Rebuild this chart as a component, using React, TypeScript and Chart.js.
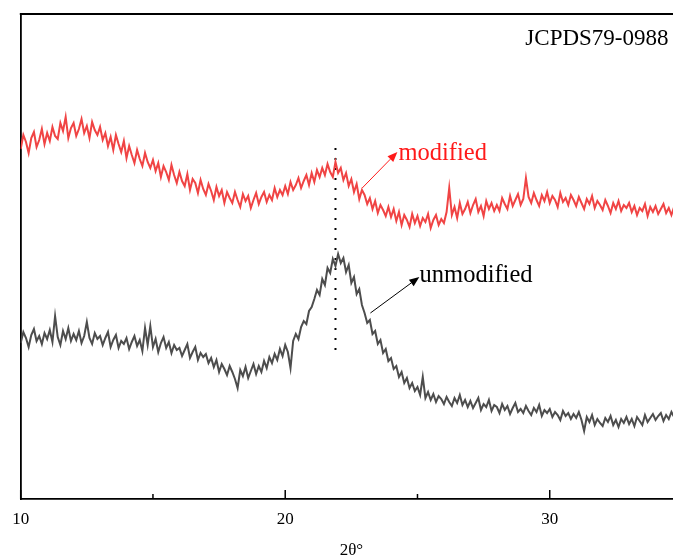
import React, { useEffect, useRef } from "react";
import { Chart, registerables } from "chart.js";

Chart.register(...registerables);

// 2θ scan: start angle and step (degrees)
const ANGLE_START = 10;
const ANGLE_STEP = 0.1;

// Intensity (a.u., offset traces), one value per 0.1° from 10.0°
const MODIFIED = [
  350, 364, 357, 346, 361, 367, 352, 359, 370, 355,
  366, 358, 372, 363, 360, 376, 368, 382, 361, 371,
  376, 363, 370, 380, 366, 373, 361, 377, 369, 364,
  372, 359, 366, 353, 362, 349, 364, 355, 347, 358,
  341, 353, 344, 336, 349, 340, 333, 346, 337, 331,
  339, 328, 336, 322, 333, 327, 319, 334, 324, 316,
  327, 318, 313, 325, 309, 320, 316, 306, 319, 310,
  304, 315, 308, 299, 312, 303, 309, 296, 307, 301,
  296, 307, 299, 292, 305, 298, 303, 291, 299, 306,
  295, 302, 307, 297, 304, 299, 311, 302, 309, 304,
  313, 305, 317, 309, 314, 321, 311, 318, 324, 314,
  326, 317, 329, 322, 331, 324, 335, 327, 322, 337,
  326, 331, 319, 326, 313, 320, 307, 315, 300, 309,
  304, 295, 301, 290, 298, 286, 294, 289, 283, 292,
  282, 290, 278, 287, 274, 284, 279, 272, 285, 276,
  283, 273, 281, 277, 285, 271, 279, 284, 274, 280,
  276, 287, 311, 284, 292, 281, 296, 285, 290, 297,
  286, 294, 300, 287, 293, 283, 298, 290, 296, 288,
  294, 288, 301, 295, 290, 303, 293, 299, 305, 294,
  300, 321, 302, 296, 306, 299, 293, 304, 298, 307,
  296, 303, 299, 292, 306, 297, 301, 294, 304, 299,
  293, 302, 296, 290, 300, 295, 303, 291, 298, 294,
  289, 299, 293, 286, 296, 290, 298, 288, 294, 291,
  296, 287, 293, 284, 291, 288, 295, 283, 292, 287,
  293, 285, 290, 295, 286, 291, 284, 292, 288,
];

const UNMODIFIED = [
  156, 167, 161, 152, 164, 170, 158, 163, 155, 166,
  160, 169, 157, 183, 162, 154, 168, 160, 171, 158,
  165, 159, 168, 156, 163, 177, 161, 155, 166, 160,
  163, 154, 161, 167, 152, 159, 164, 151, 158, 155,
  161, 150, 157, 163, 153, 159, 148, 171, 154, 173,
  152, 160, 147, 156, 162, 151, 157, 146, 154, 149,
  151, 143, 149, 155, 141, 147, 152, 139, 146, 142,
  145, 136, 141, 132, 139, 127, 135, 130, 124, 133,
  127, 120, 111, 129, 123, 132, 121, 128, 135, 125,
  133, 127, 138, 131, 142, 136, 145, 139, 150, 143,
  154, 147, 131, 158, 165, 160, 172, 178, 175, 188,
  192, 200, 209, 204, 220, 214, 231, 226, 240, 233,
  245, 236, 241, 227, 234, 216, 222, 205, 210, 194,
  186, 176, 179, 165, 168, 155, 159, 146, 150, 138,
  141, 130, 133, 122, 127, 116, 121, 111, 116, 108,
  112, 104, 122, 101, 107, 99, 105, 97, 103, 100,
  95, 102, 97, 93, 101, 96, 104, 94, 99, 92,
  98, 91, 96, 101, 89, 95, 92, 99, 88, 94,
  92, 86, 95, 89, 93, 85, 91, 96, 87, 90,
  86, 93, 88, 84, 91, 87, 94, 83, 89, 86,
  90, 82, 87, 84, 79, 88, 83, 86, 80, 85,
  81, 87, 79, 68, 82, 77, 84, 74, 80, 76,
  73, 81, 77, 83, 74, 79, 72, 80, 76, 82,
  75, 80, 73, 82, 78, 74, 84, 77, 81, 85,
  79, 83, 86, 78, 84, 80, 87, 82, 85,
];

const X_TICKS = [10, 20, 30];
const X_MINOR_TICKS = [15, 25, 35];
const X_MIN = 10;
const X_MAX = 35;
const Y_MIN = 0;
const Y_MAX = 485;

// vertical dotted reference line (JCPDS 79-0988 peak)
const REF_LINE_X = [21.9, 21.9];
const REF_LINE_Y = [149, 359];

const LABEL_MODIFIED = "modified";
const LABEL_UNMODIFIED = "unmodified";
const LABEL_JCPDS = "JCPDS79-0988";
const X_TITLE = "2θ°";

const SERIF = "'Liberation Serif', 'Times New Roman', serif";
const RED = "#f04444";
const GREY = "#4d4d4d";

function drawArrow(ctx: CanvasRenderingContext2D, x1: number, y1: number, x2: number, y2: number, color: string) {
  const ang = Math.atan2(y2 - y1, x2 - x1);
  const head = 10;
  const half = 4;
  const bx = x2 - head * Math.cos(ang);
  const by = y2 - head * Math.sin(ang);
  ctx.strokeStyle = color;
  ctx.fillStyle = color;
  ctx.lineWidth = 1;
  ctx.beginPath();
  ctx.moveTo(x1, y1);
  ctx.lineTo(bx, by);
  ctx.stroke();
  ctx.beginPath();
  ctx.moveTo(x2, y2);
  ctx.lineTo(bx + half * Math.sin(ang), by - half * Math.cos(ang));
  ctx.lineTo(bx - half * Math.sin(ang), by + half * Math.cos(ang));
  ctx.closePath();
  ctx.fill();
}

export default function App() {
  const ref = useRef<HTMLCanvasElement>(null);

  useEffect(() => {
    if (!ref.current) return;
    const toPts = (arr: number[]) =>
      arr.map((y, i) => ({ x: +(ANGLE_START + i * ANGLE_STEP).toFixed(2), y }));

    const framePlugin = {
      id: "frame",
      afterDatasetsDraw(chart: any) {
        const { ctx, chartArea: a, scales } = chart;
        const xs = scales.x;
        const ys = scales.y;
        ctx.save();
        ctx.strokeStyle = "#000";
        ctx.lineWidth = 1.8;
        ctx.beginPath();
        ctx.moveTo(a.left - 0.9, a.top);
        ctx.lineTo(a.right, a.top);
        ctx.stroke();
        ctx.lineWidth = 1.5;
        X_TICKS.forEach((v) => {
          const px = xs.getPixelForValue(v);
          ctx.beginPath();
          ctx.moveTo(px, a.bottom);
          ctx.lineTo(px, a.bottom - 9);
          ctx.stroke();
        });
        X_MINOR_TICKS.forEach((v) => {
          const px = xs.getPixelForValue(v);
          ctx.beginPath();
          ctx.moveTo(px, a.bottom);
          ctx.lineTo(px, a.bottom - 5);
          ctx.stroke();
        });

        // arrows
        drawArrow(ctx, xs.getPixelForValue(22.91), ys.getPixelForValue(311), xs.getPixelForValue(24.24), ys.getPixelForValue(347), "#ff1a1a");
        drawArrow(ctx, xs.getPixelForValue(23.22), ys.getPixelForValue(186), xs.getPixelForValue(25.07), ys.getPixelForValue(222), "#000");

        ctx.textBaseline = "alphabetic";
        ctx.font = `24.5px ${SERIF}`;
        ctx.textAlign = "left";
        ctx.fillStyle = "#ff1a1a";
        ctx.fillText(LABEL_MODIFIED, xs.getPixelForValue(24.28), ys.getPixelForValue(339));
        ctx.fillStyle = "#000";
        ctx.fillText(LABEL_UNMODIFIED, xs.getPixelForValue(25.08), ys.getPixelForValue(217));
        ctx.font = `23px ${SERIF}`;
        ctx.textAlign = "right";
        ctx.fillText(LABEL_JCPDS, xs.getPixelForValue(34.49), ys.getPixelForValue(454));
        ctx.restore();
      },
    };

    const chart = new Chart(ref.current, {
      type: "line",
      data: {
        datasets: [
          {
            label: "unmodified",
            data: toPts(UNMODIFIED),
            borderColor: GREY,
            borderWidth: 2,
            pointRadius: 0,
            tension: 0,
          },
          {
            label: "modified",
            data: toPts(MODIFIED),
            borderColor: RED,
            borderWidth: 2,
            pointRadius: 0,
            tension: 0,
          },
          {
            label: "JCPDS79-0988",
            data: REF_LINE_X.map((x, i) => ({ x, y: REF_LINE_Y[i] })),
            borderColor: "#000",
            borderWidth: 2,
            borderDash: [2, 8],
            pointRadius: 0,
          },
        ],
      },
      options: {
        animation: false,
        responsive: false,
        layout: { padding: { top: 14, right: 0, bottom: 0, left: 0 } },
        plugins: { legend: { display: false }, tooltip: { enabled: false }, title: { display: false } },
        scales: {
          x: {
            type: "linear",
            min: X_MIN,
            max: X_MAX,
            afterBuildTicks: (s: any) => {
              s.ticks = X_TICKS.map((v) => ({ value: v }));
            },
            afterFit: (s: any) => {
              s.height = 57;
            },
            ticks: {
              font: { family: SERIF, size: 17 },
              color: "#000",
              padding: 10,
              maxRotation: 0,
              autoSkip: false,
            },
            grid: { display: false, drawTicks: false },
            border: { display: true, color: "#000", width: 1.8 },
            title: {
              display: true,
              text: X_TITLE,
              color: "#000",
              font: { family: SERIF, size: 17, lineHeight: 0.7 },
              padding: { top: 0, bottom: 0 },
            },
          },
          y: {
            min: Y_MIN,
            max: Y_MAX,
            afterFit: (s: any) => {
              s.width = 20.7;
            },
            ticks: { display: false },
            grid: { display: false, drawTicks: false },
            border: { display: true, color: "#000", width: 1.8 },
          },
        },
      },
      plugins: [framePlugin],
    });
    return () => chart.destroy();
  }, []);

  return (
    <div
      style={{
        position: "fixed",
        left: 0,
        top: 0,
        width: 673,
        height: 556,
        overflow: "hidden",
        background: "#fff",
      }}
    >
      <canvas ref={ref} width={682} height={556} style={{ display: "block" }} />
    </div>
  );
}
